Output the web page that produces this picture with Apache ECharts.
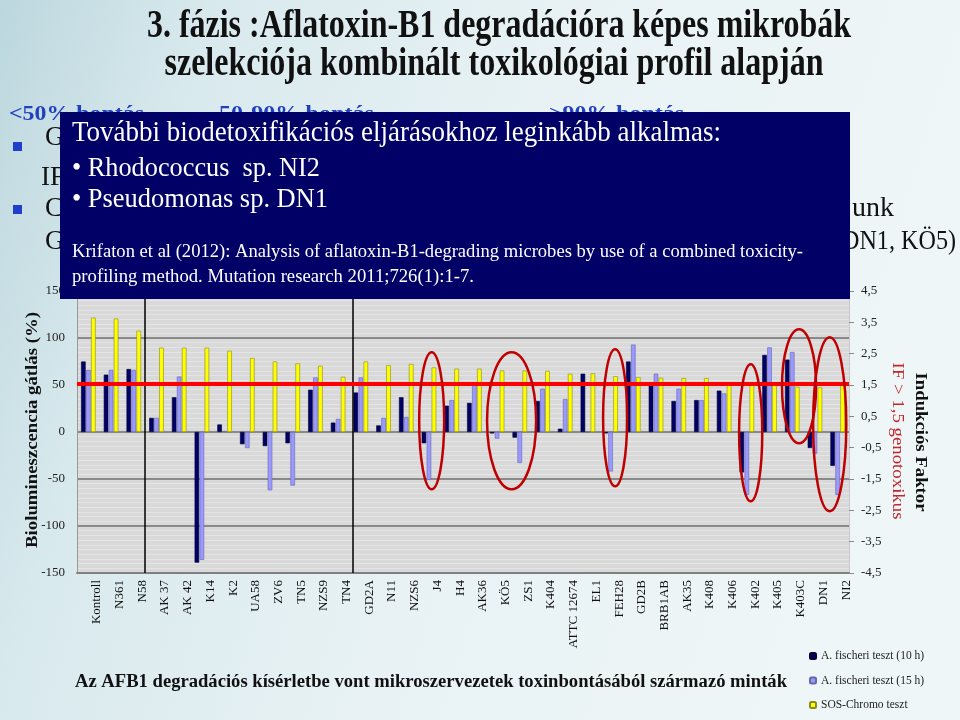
<!DOCTYPE html>
<html>
<head>
<meta charset="utf-8">
<script src="https://cdn.jsdelivr.net/npm/echarts@6/dist/echarts.min.js"></script>
<style>html,body{margin:0;padding:0;}#c{width:960px;height:720px;}</style>
</head>
<body>
<div id="c"></div>
<script>
const categories = ['Kontroll','N361','N58','AK 37','AK 42','K14','K2','UA58','ZV6','TN5','NZS9','TN4','GD2A','N11','NZS6','J4','H4','AK36','KÖ5','ZS1','K404','ATTC 12674','EL1','FEH28','GD2B','BRB1AB','AK35','K408','K406','K402','K405','K403C','DN1','NI2'];
const fischeri10 = [75, 61, 67, 15, 37, -139, 8, -13, -15, -12, 45, 10, 42, 7, 37, -12, 28, 31, -1.5, -6, 33, 3.5, 62, -1.5, 75, 50, 33, 34, 44, -43, 82, 77, -17, -36];
const fischeri15 = [66, 66, 66, 15, 59, -136, 1, -17, -62, -57, 58, 14, 58, 15, 16, -51, 34, 50, -7, -33, 46, 35, 0, -42, 93, 62, 46, 34, 41, -67, 90, 85, -23, -67];
const sosChromo = [3.65, 3.62, 3.23, 2.69, 2.69, 2.69, 2.59, 2.36, 2.25, 2.19, 2.11, 1.76, 2.25, 2.13, 2.17, 2.06, 2.02, 2.02, 1.96, 1.96, 1.95, 1.86, 1.87, 1.78, 1.75, 1.73, 1.72, 1.72, 1.52, 1.5, 1.5, 1.44, 1.42, 1.49];
const seriesNames = ['A. fischeri teszt (10 h)', 'A. fischeri teszt (15 h)', 'SOS-Chromo teszt'];
const ifThreshold = 1.53;
const separatorPositions = [3, 12.15];
// highlight ellipses: centre (category units, % units) and radii
const ellipseX = [15.62, 19.14, 23.7, 29.67, 31.8, 33.15];
const ellipseY = [11.9, 11.9, 15.1, -0.9, 48.6, 8.2];
const ellipseRX = [0.55, 1.08, 0.53, 0.51, 0.75, 0.73];
const ellipseRY = [72.9, 72.9, 72.9, 72.9, 60.6, 92.6];

const SERIF = '"Liberation Serif", "Times New Roman", serif';
const chart = echarts.init(document.getElementById('c'));

const option = {
  animation: false,
  backgroundColor: {type:'linear', x:0, y:0, x2:1, y2:0.4, colorStops:[
    {offset:0, color:'#bcd7de'}, {offset:0.2, color:'#d8e9ed'}, {offset:0.55, color:'#e8f2f4'}, {offset:1, color:'#eff6f7'}]},
  grid: {left:77, right:111, top:291, bottom:147, show:true, backgroundColor:'#d9d9d9', borderWidth:0},
  legend: {
    data: seriesNames, orient:'vertical', left:804, top:644, itemWidth:6, itemHeight:6, itemGap:10.5,
    textStyle:{fontFamily:SERIF, fontSize:11.5, color:'#222', lineHeight:14}
  },
  xAxis: [
    {type:'category', data:categories,
     axisLine:{onZero:false, lineStyle:{color:'#808080', width:2}},
     axisTick:{show:false},
     axisLabel:{rotate:90, interval:0, fontFamily:SERIF, fontSize:13, color:'#111', margin:7,
       verticalAlign:'top', padding:[2,0,0,0]}},
    {type:'value', min:0, max:34, show:false}
  ],
  yAxis: [
    {type:'value', min:-150, max:150, interval:50, position:'left',
     axisLine:{show:true, lineStyle:{color:'#9a9a9a'}}, axisTick:{show:false},
     axisLabel:{fontFamily:SERIF, fontSize:13, color:'#222', margin:12},
     splitLine:{lineStyle:{color:'#6e6e6e', width:1.5}},
     minorTick:{show:false, splitNumber:10},
     minorSplitLine:{show:true, lineStyle:{color:'#e4e4e4', width:1}}},
    {type:'value', min:-4.5, max:4.5, interval:1, position:'right',
     axisLine:{show:true, lineStyle:{color:'#c8c8c8'}},
     axisTick:{show:true, length:5, lineStyle:{color:'#888'}},
     axisLabel:{fontFamily:SERIF, fontSize:13, color:'#222', margin:12,
       formatter: v => (Math.round(v*10)/10).toFixed(1).replace('.', ',')},
     splitLine:{show:false}}
  ],
  series: [
    {name:seriesNames[0], type:'bar', xAxisIndex:0, yAxisIndex:0, data:fischeri10, barWidth:'20%', barGap:'10%',
     itemStyle:{color:'#000066', borderColor:'#000033', borderWidth:0.6}},
    {name:seriesNames[1], type:'bar', xAxisIndex:0, yAxisIndex:0, data:fischeri15, barWidth:'20%', barGap:'10%',
     itemStyle:{color:'#9999ff', borderColor:'#6666aa', borderWidth:0.6}},
    {name:seriesNames[2], type:'bar', xAxisIndex:0, yAxisIndex:1, data:sosChromo, barWidth:'20%', barGap:'10%',
     itemStyle:{color:'#ffff00', borderColor:'#8a8a20', borderWidth:0.6}},
    {name:'sep', type:'line', xAxisIndex:1, yAxisIndex:0, data:[], z:3,
     markLine:{silent:true, symbol:'none', label:{show:false}, lineStyle:{color:'#000', width:1.5, type:'solid'},
       data: separatorPositions.map(v => ({xAxis:v}))}},
    {name:'threshold', type:'line', xAxisIndex:0, yAxisIndex:1, data:[], z:10,
     markLine:{silent:true, symbol:'none', label:{show:false}, lineStyle:{color:'#ff0000', width:4, type:'solid'},
       data:[{yAxis:ifThreshold}]}}
  ]
};
chart.setOption(option);

const mctx = document.createElement('canvas').getContext('2d');
function fit(text, font, w){ mctx.font = font; return w / mctx.measureText(text).width; }
function txt(text, x, y, size, opts){
  opts = opts || {};
  const font = (opts.bold ? 'bold ' : '') + size + 'px ' + SERIF;
  const s = opts.width ? fit(opts.fitText || text, font, opts.width) : 1;
  const al = opts.align || 'left';
  return {type:'text', x:x, y:y, rotation:opts.rotation || 0, scaleX:s, z:opts.z || 110,
    style:{text:text, font:font, fill:opts.fill || '#000', align:al, textAlign:al, verticalAlign:'middle', textVerticalAlign:'middle'}};
}
const blue = '#2040c0';
const graphics = [
  txt('3. fázis :Aflatoxin-B1 degradációra képes mikrobák', 499, 27, 40, {bold:true, width:704, align:'center', fill:'#111'}),
  txt('szelekciója kombinált toxikológiai profil alapján', 494, 65, 40, {bold:true, width:659, align:'center', fill:'#111'}),
  txt('<50% bontás', 9, 114, 22, {bold:true, width:135, fill:blue, z:90}),
  txt('50-90% bontás', 219, 114, 22, {bold:true, width:155, fill:blue, z:90}),
  txt('>90% bontás', 549, 114, 22, {bold:true, width:135, fill:blue, z:90}),
  {type:'rect', shape:{x:13, y:142, width:9, height:9}, style:{fill:'#1f3fcc'}, z:90},
  {type:'rect', shape:{x:13, y:205, width:9, height:9}, style:{fill:'#1f3fcc'}, z:90},
  txt('G', 45, 138, 27, {z:90, fill:'#111'}),
  txt('IF', 41, 178, 27, {z:90, fill:'#111'}),
  txt('C', 45, 209, 27, {z:90, fill:'#111'}),
  txt('G', 45, 242, 27, {z:90, fill:'#111'}),
  txt('unk', 852, 209, 27, {z:90, width:42, fill:'#111'}),
  txt('(DN1, KÖ5)', 956, 242, 27, {z:90, width:114, fitText:'DN1, KÖ5)', align:'right', fill:'#111'}),
  {type:'rect', shape:{x:60, y:112, width:790, height:187}, style:{fill:'#000066'}, z:100},
  txt('További biodetoxifikációs eljárásokhoz leginkább alkalmas:', 72, 133, 29, {width:649, fill:'#fff'}),
  txt('• Rhodococcus  sp. NI2', 72, 169, 27, {width:248, fill:'#fff'}),
  txt('• Pseudomonas sp. DN1', 72, 200, 27, {width:256, fill:'#fff'}),
  txt('Krifaton et al (2012): Analysis of aflatoxin-B1-degrading microbes by use of a combined toxicity-', 72, 252, 18, {width:731, fill:'#fff'}),
  txt('profiling method. Mutation research 2011;726(1):1-7.', 72, 277, 18, {width:402, fill:'#fff'}),
  txt('Biolumineszcencia gátlás (%)', 33, 430, 17, {bold:true, width:236, align:'center', rotation:Math.PI/2, fill:'#111'}),
  txt('Indukciós Faktor', 920, 442, 17, {bold:true, width:139, align:'center', rotation:-Math.PI/2, fill:'#111'}),
  txt('IF > 1,5 genotoxikus', 897, 441, 17, {width:157, align:'center', rotation:-Math.PI/2, fill:'#c0282d'}),
  txt('Az AFB1 degradációs kísérletbe vont mikroszervezetek toxinbontásából származó minták', 75, 682, 18, {bold:true, width:712, fill:'#111'})
];
for (let i = 0; i < ellipseX.length; i++) {
  const cx = chart.convertToPixel({xAxisIndex:1}, ellipseX[i]);
  const cy = chart.convertToPixel({yAxisIndex:0}, ellipseY[i]);
  const rx = chart.convertToPixel({xAxisIndex:1}, ellipseX[i] + ellipseRX[i]) - cx;
  const ry = cy - chart.convertToPixel({yAxisIndex:0}, ellipseY[i] + ellipseRY[i]);
  graphics.push({type:'ellipse', shape:{cx:cx, cy:cy, rx:rx, ry:ry}, style:{fill:'none', stroke:'#c00000', lineWidth:2.5}, z:50});
}
chart.setOption({graphic: graphics});
</script>
</body>
</html>
